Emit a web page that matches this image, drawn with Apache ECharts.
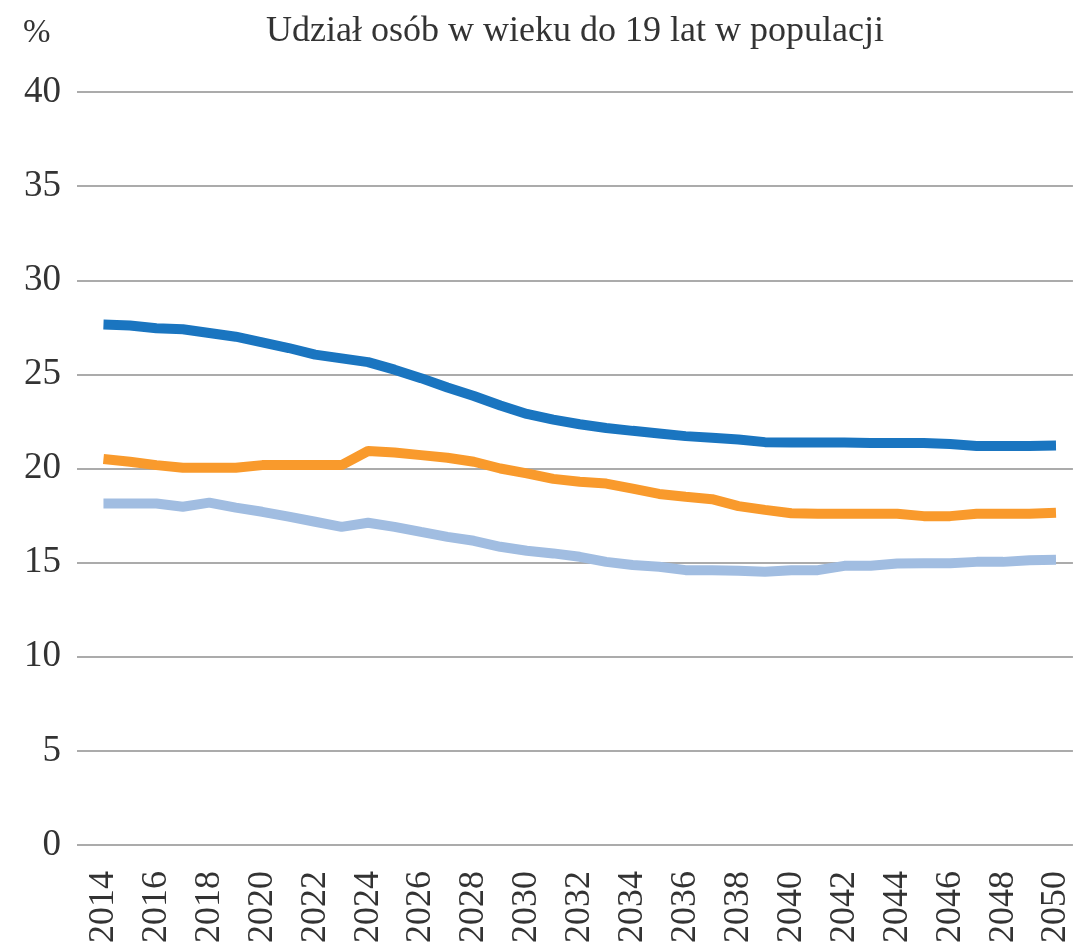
<!DOCTYPE html>
<html>
<head>
<meta charset="utf-8">
<script src="https://cdn.jsdelivr.net/npm/echarts@6/dist/echarts.min.js"></script>
<style>html,body{margin:0;padding:0;background:#fff}#c{width:1074px;height:952px}</style>
</head>
<body>
<div id="c"></div>
<script>
const titleText = 'Udział osób w wieku do 19 lat w populacji';
const unitLabel = '%';
const years = [2014,2015,2016,2017,2018,2019,2020,2021,2022,2023,2024,2025,2026,2027,2028,2029,2030,2031,2032,2033,2034,2035,2036,2037,2038,2039,2040,2041,2042,2043,2044,2045,2046,2047,2048,2049,2050];
const seriesDark = [27.65,27.6,27.45,27.4,27.2,27.0,26.7,26.4,26.05,25.85,25.65,25.25,24.8,24.3,23.85,23.35,22.9,22.6,22.35,22.15,22.0,21.86,21.72,21.63,21.54,21.4,21.38,21.38,21.38,21.36,21.36,21.36,21.3,21.2,21.2,21.2,21.22];
const seriesOrange = [20.5,20.36,20.18,20.04,20.04,20.04,20.18,20.18,20.18,20.18,20.93,20.85,20.71,20.57,20.36,20.0,19.74,19.45,19.3,19.2,18.93,18.65,18.5,18.37,18.0,17.8,17.62,17.6,17.6,17.6,17.6,17.47,17.47,17.6,17.6,17.6,17.65];
const seriesLight = [18.14,18.14,18.14,17.97,18.19,17.92,17.7,17.44,17.17,16.9,17.12,16.9,16.63,16.37,16.16,15.84,15.63,15.49,15.31,15.04,14.87,14.78,14.6,14.6,14.57,14.51,14.6,14.6,14.83,14.83,14.95,14.97,14.97,15.04,15.04,15.13,15.15];

const chart = echarts.init(document.getElementById('c'));
const pair = arr => years.map((y,i)=>[y, arr[i]]);
const fontFamily = '"Liberation Serif", "DejaVu Serif", serif';
chart.setOption({
  animation: false,
  backgroundColor: '#fff',
  title: [
    {text: titleText, left: 570, top: 9, textAlign: 'center',
     textStyle: {fontFamily, fontSize: 36, fontWeight: 'normal', color: '#333'}},
    {text: unitLabel, left: 18, top: 12,
     textStyle: {fontFamily, fontSize: 33, fontWeight: 'normal', color: '#333'}}
  ],
  grid: {left: 77, right: 0, top: 92, bottom: 107, containLabel: false},
  xAxis: {
    type: 'value', min: 2013, max: 2050.64, interval: 1,
    axisLine: {show: false}, axisTick: {show: false}, splitLine: {show: false},
    axisLabel: {
      rotate: 90, margin: 26, fontFamily, fontSize: 36, color: '#333',
      showMaxLabel: false, showMinLabel: true,
      formatter: v => (Number.isInteger(v) && v % 2 === 0 && v >= 2014) ? String(v) : ''
    }
  },
  yAxis: {
    type: 'value', min: 0, max: 40, interval: 5,
    axisLine: {show: false}, axisTick: {show: false},
    splitLine: {lineStyle: {color: '#ababab', width: 2}},
    axisLabel: {fontFamily, fontSize: 37, color: '#333', margin: 16}
  },
  series: [
    {type: 'line', data: pair(seriesDark), showSymbol: false, smooth: false,
     lineStyle: {color: '#1a75c0', width: 10}, itemStyle: {color: '#1a75c0'}},
    {type: 'line', data: pair(seriesOrange), showSymbol: false,
     lineStyle: {color: '#f99a2c', width: 10}, itemStyle: {color: '#f99a2c'}},
    {type: 'line', data: pair(seriesLight), showSymbol: false,
     lineStyle: {color: '#a1bde1', width: 10}, itemStyle: {color: '#a1bde1'}}
  ]
});
</script>
</body>
</html>
